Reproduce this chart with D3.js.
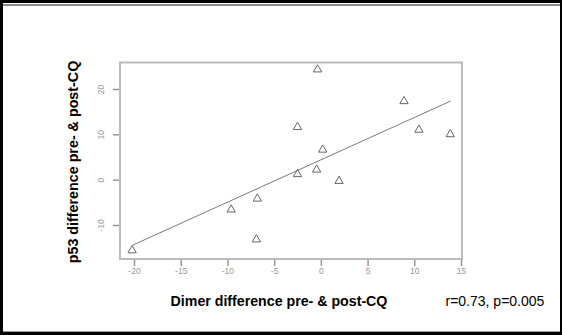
<!DOCTYPE html>
<html><head><meta charset="utf-8">
<script src="https://cdn.jsdelivr.net/npm/d3@7"></script>
<style>html,body{margin:0;padding:0;background:#fff;}svg{display:block;}</style>
</head><body>
<script>
const dimerDiff = [-20.2, -9.6, -6.9, -6.8, -2.5, -2.5, -0.45, -0.35, 0.2, 1.95, 8.9, 10.5, 13.85];
const p53Diff   = [-15.6, -6.6, -13.2, -4.2, 11.6, 1.2, 2.2, 24.3, 6.6, -0.3, 17.3, 11.0, 10.0];
const fitX = [-20.2, 13.9];
const fitY = [-14.5, 17.35];
const xTicks = [-20, -15, -10, -5, 0, 5, 10, 15];
const yTicks = [-10, 0, 10, 20];
const xTitle = "Dimer difference pre- & post-CQ";
const yTitle = "p53 difference pre- & post-CQ";
const statText = "r=0.73, p=0.005";

const W = 562, H = 335;
const svg = d3.select("body").append("svg").attr("width", W).attr("height", H);

// outer frame
svg.append("rect").attr("x", 0).attr("y", 0).attr("width", W).attr("height", H).attr("fill", "#000");
svg.append("rect").attr("x", 3).attr("y", 3).attr("width", 557).attr("height", 329).attr("fill", "#fff");
svg.append("rect").attr("x", 3).attr("y", 4).attr("width", 557).attr("height", 2).attr("fill", "#8a8a8a");
svg.append("rect").attr("x", 3).attr("y", 331).attr("width", 557).attr("height", 1).attr("fill", "#999");

// scales (plot box 120..462 x, 62..259 y)
const x = d3.scaleLinear().domain([-20, 15]).range([134, 461]);
const y = d3.scaleLinear().domain([-10, 20]).range([225, 89]);

// plot box
svg.append("rect").attr("x", 120).attr("y", 62.5).attr("width", 342).attr("height", 196.5)
  .attr("fill", "none").attr("stroke", "#bbb").attr("stroke-width", 2);

// x axis
const xAxis = d3.axisBottom(x).tickValues(xTicks).tickSize(6).tickFormat(d3.format("d"));
const gx = svg.append("g").attr("transform", "translate(0,260)").call(xAxis);
gx.select(".domain").remove();
gx.selectAll(".tick line").attr("stroke", "#999").attr("stroke-width", 1.5);
gx.selectAll(".tick text").attr("fill", "#999").attr("font-family", "Liberation Sans, Arial, sans-serif")
  .attr("font-size", 8.5).attr("dy", "0.2em").attr("y", 12)
  .text(d => d < 0 ? "-" + Math.abs(d) : d);

// y axis
const yAxis = d3.axisLeft(y).tickValues(yTicks).tickSize(6);
const gy = svg.append("g").attr("transform", "translate(119,0)").call(yAxis);
gy.select(".domain").remove();
gy.selectAll(".tick line").attr("stroke", "#999").attr("stroke-width", 1.5);
gy.selectAll(".tick text").attr("fill", "#999").attr("font-family", "Liberation Sans, Arial, sans-serif")
  .attr("font-size", 8.5).attr("x", null).attr("dy", null)
  .attr("text-anchor", "middle")
  .attr("transform", "translate(-18,0) rotate(-90)")
  .attr("dy", "0.35em")
  .text(d => d < 0 ? "-" + Math.abs(d) : d);

// regression line
svg.append("line")
  .attr("x1", x(fitX[0])).attr("y1", y(fitY[0]))
  .attr("x2", x(fitX[1])).attr("y2", y(fitY[1]))
  .attr("stroke", "#7a7a7a").attr("stroke-width", 1);

// points (triangles)
const tri = d3.symbol().type(d3.symbolTriangle).size(30);
svg.append("g").selectAll("path").data(dimerDiff).join("path")
  .attr("d", tri)
  .attr("transform", (d, i) => `translate(${x(d)},${y(p53Diff[i])})`)
  .attr("fill", "none").attr("stroke", "#666").attr("stroke-width", 1);

// titles
svg.append("text").attr("x", 279).attr("y", 305.5).attr("text-anchor", "middle")
  .attr("font-family", "Liberation Sans, Arial, sans-serif").attr("font-weight", "bold")
  .attr("font-size", 14.2).attr("fill", "#000").text(xTitle);

svg.append("text").attr("transform", "translate(78,162) rotate(-90)").attr("text-anchor", "middle")
  .attr("font-family", "Liberation Sans, Arial, sans-serif").attr("font-weight", "bold")
  .attr("font-size", 14.3).attr("fill", "#000").text(yTitle);

svg.append("text").attr("x", 445.5).attr("y", 305.5).attr("text-anchor", "start")
  .attr("font-family", "Liberation Sans, Arial, sans-serif")
  .attr("font-size", 14).attr("fill", "#000").text(statText);
</script>
</body></html>
